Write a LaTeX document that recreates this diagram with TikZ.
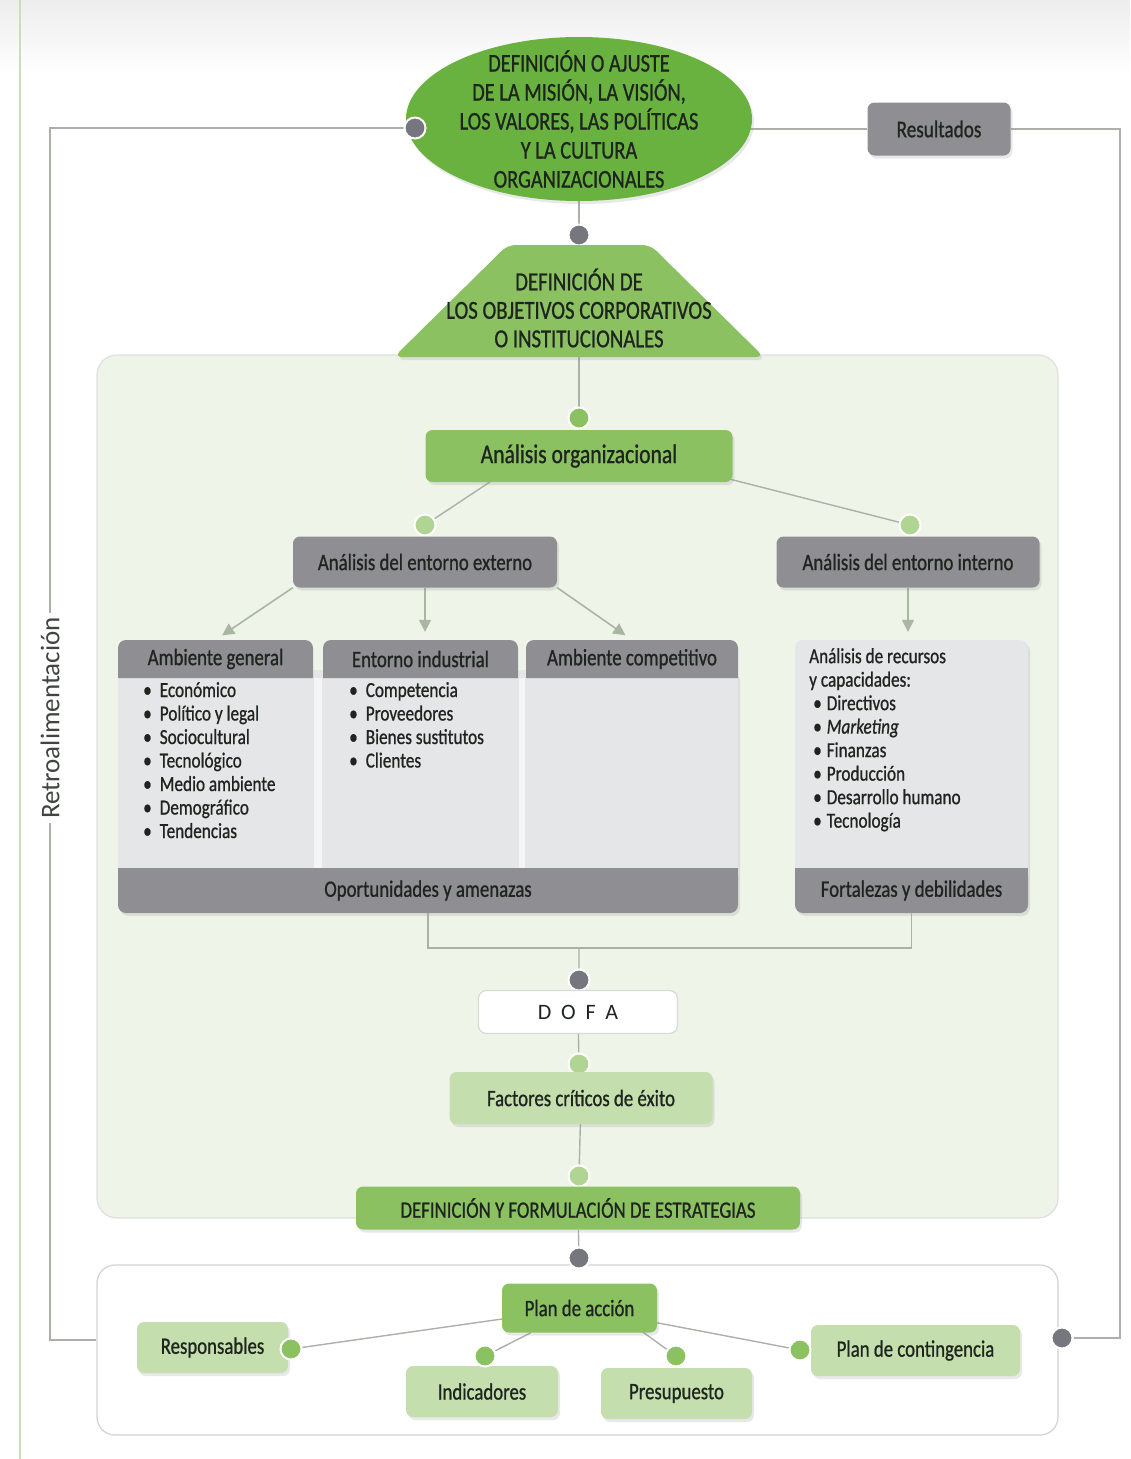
\documentclass[tikz,border=0pt]{standalone}
\usepackage{fontspec}
\setmainfont{Carlito}[FakeStretch=0.8,FakeBold=0.8]
\newfontfamily\plainfont{Carlito}
\usetikzlibrary{shapes.geometric,arrows.meta,positioning,shadows}

\definecolor{misionGreen}{RGB}{106,178,64}
\definecolor{midGreen}{RGB}{140,193,98}
\definecolor{paleGreen}{RGB}{196,223,173}
\definecolor{dotGreen}{RGB}{176,213,146}
\definecolor{panelGreen}{RGB}{238,245,232}
\definecolor{sideGreen}{RGB}{200,222,190}
\definecolor{boxGrey}{RGB}{142,142,147}
\definecolor{bodyGrey}{RGB}{229,230,232}
\definecolor{dotGrey}{RGB}{118,118,126}
\definecolor{lineGrey}{RGB}{172,176,170}
\definecolor{arrowGrey}{RGB}{168,182,162}
\definecolor{textDark}{RGB}{30,36,30}

\newcommand\mayusfont{\fontsize{25.5}{29}\selectfont}
\newcommand\boxfont{\fontsize{23.5}{27}\selectfont}
\newcommand\itemfont{\fontsize{21.5}{23.5}\selectfont}

\pgfdeclarelayer{bg}
\pgfdeclarelayer{lines}
\pgfsetlayers{bg,lines,main}

\begin{document}
\begin{tikzpicture}[x=1pt,y=-1pt,
    every node/.style={font=\boxfont,text=textDark},
    softshadow/.style={drop shadow={opacity=0.18,shadow xshift=2pt,shadow yshift=-3pt}},
    joint/.style={circle,minimum size=21pt,inner sep=0pt,draw=white,line width=2pt},
    greydot/.style={joint,fill=dotGrey},
    greendot/.style={joint,fill=midGreen},
    lightdot/.style={joint,fill=dotGreen},
    greenbox/.style={rectangle,rounded corners=7pt,fill=midGreen,minimum height=50pt,softshadow},
    palebox/.style={rectangle,rounded corners=7pt,fill=paleGreen,minimum height=51pt,softshadow},
    greybox/.style={rectangle,rounded corners=7pt,fill=boxGrey,minimum height=51pt,softshadow},
    headtext/.style={minimum height=38pt,inner sep=0pt},
    bandtext/.style={minimum height=45pt,inner sep=0pt},
    itemlist/.style={anchor=north west,align=left,inner sep=0pt,font=\itemfont},
    conn/.style={draw=lineGrey,line width=1.4pt},
    arrowline/.style={-{Triangle[length=12pt,width=12pt]},draw=arrowGrey,fill=arrowGrey,line width=1.6pt,shorten >=8pt}
]
\useasboundingbox (0,0) rectangle (1130,1459);

% Mission and objectives
\node[ellipse,fill=misionGreen,minimum width=346pt,minimum height=164pt,softshadow] (mision) at (579,119) {};
\node[align=center,font=\mayusfont] (misiontxt) at (mision) {DEFINICIÓN O AJUSTE\\DE LA MISIÓN, LA VISIÓN,\\LOS VALORES, LAS POLÍTICAS\\Y LA CULTURA\\ORGANIZACIONALES};
\node[greydot] (dotmision) at (415,128) {};
\node[greybox,minimum width=143pt,minimum height=53pt,font=\fontsize{24}{28}\selectfont] (resultados) at (939,129) {Resultados};
\node[greydot] (dotobj) at (579,235) {};
\node[trapezium,trapezium stretches=true,trapezium angle=51.5,minimum width=370pt,minimum height=112pt,
      rounded corners=8pt,fill=midGreen,softshadow] (objetivos) at (579,301) {};
\node[align=center,font=\fontsize{26}{28.5}\selectfont] (objetivostxt) at (579,308) {DEFINICIÓN DE\\LOS OBJETIVOS CORPORATIVOS\\O INSTITUCIONALES};

% Panels and blocks
\begin{pgfonlayer}{bg}
  \shade[top color=gray!14,bottom color=white] (0,0) rectangle (1130,75);
  \draw[sideGreen,line width=2pt] (20,0) -- (20,1459);
  \filldraw[fill=panelGreen,draw=gray!25,line width=1.2pt,rounded corners=20pt] (97,355) rectangle (1058,1218);
  \node[draw=gray!35,fill=white,line width=1.2pt,rounded corners=18pt,minimum width=961pt,minimum height=170pt] (planarea) at (577.5,1350) {};
  % external analysis block
  \fill[bodyGrey,rounded corners=8pt,softshadow] (118,670) rectangle (738,913);
  \foreach \a/\b in {118/313,323/518,526/738}
    \fill[boxGrey] (\a,678) [rounded corners=8pt] -- (\a,640) -- (\b,640) [sharp corners] -- (\b,678) -- cycle;
  \fill[bodyGrey!40!white] (314,678) rectangle (322,868) (519,678) rectangle (525,868);
  \fill[boxGrey,rounded corners=8pt] (118,868) rectangle (738,913);
  \fill[boxGrey] (118,868) rectangle (738,878);
  % internal analysis block
  \node[fill=bodyGrey,rounded corners=8pt,minimum width=233pt,minimum height=273pt,softshadow] (recursos) at (911.5,776.5) {};
  \fill[boxGrey,rounded corners=8pt] (795,868) rectangle (1028,913);
  \fill[boxGrey] (795,868) rectangle (1028,878);
\end{pgfonlayer}

% Analysis
\node[greendot] (dotanalisis) at (579,418) {};
\node[greenbox,minimum width=307pt,minimum height=52pt,font=\fontsize{27}{30}\selectfont] (analisis) at (579,456) {Análisis organizacional};
\node[lightdot] (dotext) at (425,525) {};
\node[lightdot] (dotint) at (910,525) {};
\node[greybox,minimum width=264pt] (externo) at (425,562) {Análisis del entorno externo};
\node[greybox,minimum width=263pt] (interno) at (908,562) {Análisis del entorno interno};

\node[headtext,minimum width=195pt] (general) at (215.5,659) {Ambiente general};
\node[headtext,minimum width=195pt] (industrial) at (420.5,659) {Entorno industrial};
\node[headtext,minimum width=212pt] (competitivo) at (632,659) {Ambiente competitivo};
\node[itemlist] (generallist) at (143,682) {\textbullet\hspace{8pt}Económico\\\textbullet\hspace{8pt}Político y legal\\\textbullet\hspace{8pt}Sociocultural\\\textbullet\hspace{8pt}Tecnológico\\\textbullet\hspace{8pt}Medio ambiente\\\textbullet\hspace{8pt}Demográfico\\\textbullet\hspace{8pt}Tendencias};
\node[itemlist] (industriallist) at (349,682) {\textbullet\hspace{8pt}Competencia\\\textbullet\hspace{8pt}Proveedores\\\textbullet\hspace{8pt}Bienes sustitutos\\\textbullet\hspace{8pt}Clientes};
\node[itemlist] (recursoslist) at (809,648) {Análisis de recursos\\y capacidades:\\\hspace{4pt}\textbullet\hspace{5pt}Directivos\\\hspace{4pt}\textbullet\hspace{5pt}\textit{Marketing}\\\hspace{4pt}\textbullet\hspace{5pt}Finanzas\\\hspace{4pt}\textbullet\hspace{5pt}Producción\\\hspace{4pt}\textbullet\hspace{5pt}Desarrollo humano\\\hspace{4pt}\textbullet\hspace{5pt}Tecnología};
\node[bandtext,minimum width=620pt] (oportunidades) at (428,890.5) {Oportunidades y amenazas};
\node[bandtext,minimum width=233pt] (fortalezas) at (911.5,890.5) {Fortalezas y debilidades};

% DOFA and strategies
\coordinate (union) at (579,948);
\node[greydot] (dotdofa) at (579,980) {};
\node[rectangle,rounded corners=8pt,fill=white,draw=gray!30,line width=1.2pt,minimum width=199pt,minimum height=43pt,
      font=\plainfont\fontsize{22}{26}\selectfont\addfontfeature{LetterSpace=22}] (dofa) at (578,1012) {D O F A};
\node[lightdot] (dotfactores) at (579,1064) {};
\node[palebox,minimum width=263pt,minimum height=52pt] (factores) at (581,1098) {Factores críticos de éxito};
\node[lightdot] (dotestrategias) at (579,1176) {};
\node[greenbox,minimum width=444pt,minimum height=43pt] (estrategias) at (578,1208) {DEFINICIÓN Y FORMULACIÓN DE ESTRATEGIAS};
\node[greydot] (dotplan) at (579,1258) {};

% Action plan
\node[greenbox,minimum width=155pt,minimum height=49pt] (plan) at (579.5,1308) {Plan de acción};
\node[palebox,minimum width=151pt] (responsables) at (212.5,1347.5) {Responsables};
\node[greendot] (dotresp) at (291,1349) {};
\node[palebox,minimum width=152pt] (indicadores) at (482,1391.5) {Indicadores};
\node[greendot] (dotind) at (485,1356) {};
\node[palebox,minimum width=151pt] (presupuesto) at (676.5,1393.5) {Presupuesto};
\node[greendot] (dotpres) at (676,1356) {};
\node[palebox,minimum width=209pt] (contingencia) at (915.5,1350.5) {Plan de contingencia};
\node[greendot] (dotcont) at (800,1350) {};
\node[greydot] (dotplanR) at (1062,1338) {};

% Connections
\begin{pgfonlayer}{lines}
  \draw[conn] (mision) -- (dotobj) -- (objetivos);
  \draw[conn] (objetivostxt) -- (dotanalisis) -- (analisis);
  \draw[conn] ([xshift=-50pt]analisis.center) -- (dotext) -- (externo);
  \draw[conn] ([xshift=60pt]analisis.center) -- (dotint) -- (interno);
  \draw[arrowline] (externo.south west) -- (general.north);
  \draw[arrowline] (externo.south) -- (externo.south |- industrial.north);
  \draw[arrowline] (externo.south east) -- (competitivo.north);
  \draw[arrowline] (interno.south) -- (interno.south |- recursos.north);
  \draw[conn] (oportunidades.south) |- (union) -| (fortalezas.south);
  \draw[conn] (union) -- (dotdofa) -- (dofa) -- (dotfactores) -- (factores) -- (dotestrategias) -- (estrategias) -- (dotplan);
  \draw[conn] (plan) -- (dotresp);
  \draw[conn] (plan) -- (dotind);
  \draw[conn] ([xshift=30pt]plan.center) -- (dotpres);
  \draw[conn] (plan) -- (dotcont);
  % feedback loop
  \coordinate (fbL) at (50,1340);
  \coordinate (fbR) at (1120,1338);
  \draw[conn] (dotmision) -| (fbL) -- (planarea.west |- fbL);
  \draw[conn] (resultados) -- (resultados -| mision);
  \draw[conn] (resultados) -| (fbR) -- (dotplanR);
\end{pgfonlayer}
\node[fill=white,rotate=90,inner sep=4pt,font=\plainfont\fontsize{27}{30}\selectfont,text=textDark!85] (retro) at (50,718) {Retroalimentación};

\end{tikzpicture}
\end{document}
